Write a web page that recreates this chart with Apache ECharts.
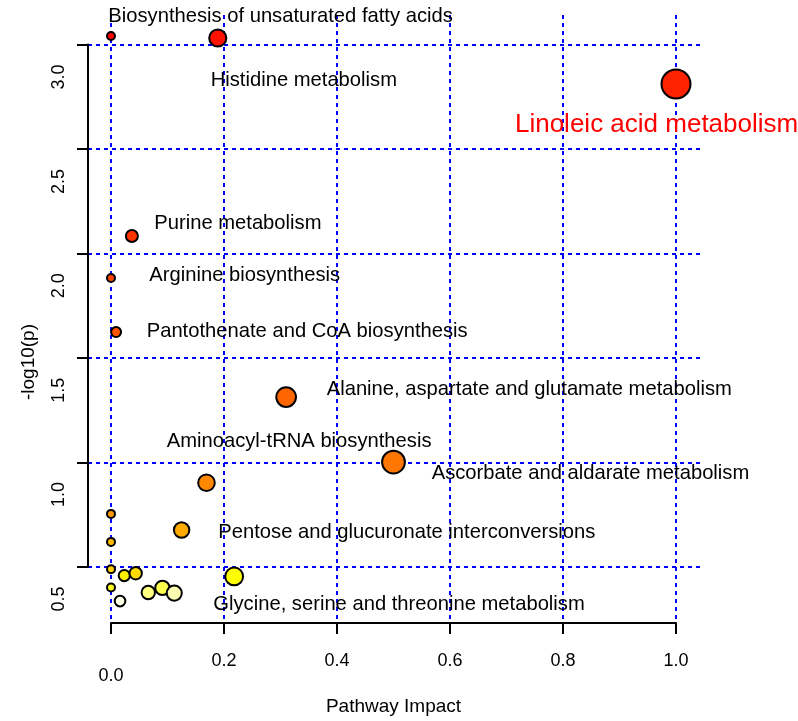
<!DOCTYPE html>
<html><head><meta charset="utf-8">
<script src="https://cdn.jsdelivr.net/npm/echarts@6/dist/echarts.min.js"></script>
<style>html,body{margin:0;padding:0;background:#fff}#c{width:798px;height:721px}</style>
</head><body><div id="c"></div>
<script>
// Pathway impact (x) and -log10(p) (y) for each pathway bubble
const pathwayImpact = [0, 0.189, 1.0, 0.037, 0, 0.009, 0.310, 0.5, 0.169, 0.125, 0, 0, 0, 0.0235, 0.0437, 0, 0.016, 0.066, 0.091, 0.112, 0.218];
const negLog10P     = [3.041, 3.031, 2.811, 2.084, 1.883, 1.624, 1.313, 1.002, 0.903, 0.677, 0.754, 0.620, 0.489, 0.459, 0.470, 0.402, 0.337, 0.378, 0.400, 0.375, 0.455];

// Annotation texts and their anchor (left edge, middle) in data units
const labelNames = ['Biosynthesis of unsaturated fatty acids', 'Histidine metabolism', 'Linoleic acid metabolism',
  'Purine metabolism', 'Arginine biosynthesis', 'Pantothenate and CoA biosynthesis',
  'Alanine, aspartate and glutamate metabolism', 'Aminoacyl-tRNA biosynthesis',
  'Ascorbate and aldarate metabolism', 'Pentose and glucuronate interconversions',
  'Glycine, serine and threonine metabolism'];
const labelX = [-0.0048, 0.1765, 0.715, 0.0766, 0.0678, 0.0632, 0.3818, 0.0986, 0.5676, 0.1899, 0.1811];
const labelY = [3.136, 2.830, 2.615, 2.145, 1.896, 1.628, 1.349, 1.102, 0.950, 0.663, 0.322];

const xTicks = [0, 0.2, 0.4, 0.6, 0.8, 1.0];
const yTicks = [0.5, 1.0, 1.5, 2.0, 2.5, 3.0];

// R heat.colors(n)
function heatColors(n) {
  const j = Math.floor(n / 4), i = n - j, out = [];
  function hsv(h, s, v) {
    const f = (k) => { const kk = (k + h * 6) % 6; return v - v * s * Math.max(0, Math.min(kk, 4 - kk, 1)); };
    const c = (x) => Math.round(x * 255).toString(16).padStart(2, '0');
    return '#' + c(f(5)) + c(f(3)) + c(f(1));
  }
  for (let k = 0; k < i; k++) out.push(hsv((i > 1 ? k / (i - 1) : 0) / 6, 1, 1));
  for (let k = 0; k < j; k++) {
    const s = j > 1 ? (1 - 1 / (2 * j)) + k * ((1 / (2 * j)) - (1 - 1 / (2 * j))) / (j - 1) : 0.5;
    out.push(hsv(1 / 6, s, 1));
  }
  return out;
}
const order = negLog10P.map((v, k) => k).sort((a, b) => negLog10P[b] - negLog10P[a]);
const pal = heatColors(negLog10P.length);
const colorOf = [];
order.forEach((idx, r) => { colorOf[idx] = pal[r]; });

const bubbleData = pathwayImpact.map((x, k) => ({ value: [x, negLog10P[k]], itemStyle: { color: colorOf[k] } }));
const labelData = labelNames.map((n, k) => {
  const item = { name: n, value: [labelX[k], labelY[k]] };
  if (n === 'Linoleic acid metabolism') item.label = { color: '#FF0000', fontSize: 26 };
  return item;
});

const FONT = '"Liberation Sans", Arial, Helvetica, sans-serif';
const blueDash = { show: true, lineStyle: { color: '#0000FF', type: [4, 4], width: 2 } };
const blackLine = { show: true, onZero: false, lineStyle: { color: '#000', width: 2 } };
const blackTick = { show: true, length: 11, lineStyle: { color: '#000', width: 2 } };

const chart = echarts.init(document.getElementById('c'), null, { renderer: 'canvas' });
chart.setOption({
  animation: false,
  backgroundColor: '#fff',
  textStyle: { fontFamily: FONT },
  grid: [
    { left: 88, right: 98, top: 15, bottom: 98 },
    { left: 111, right: 122, top: 15, bottom: 98 },
    { left: 88, right: 98, top: 44.5, bottom: 154 },
    { left: 88, right: 98, top: 77, bottom: 122 }
  ],
  xAxis: [
    { gridIndex: 0, type: 'value', min: -0.0407, max: 1.0425, show: false },
    { gridIndex: 1, type: 'value', min: xTicks[0], max: xTicks[xTicks.length - 1], interval: 0.2,
      axisLine: blackLine, axisTick: blackTick, splitLine: blueDash,
      axisLabel: { fontSize: 18, color: '#000', fontFamily: FONT, margin: 29,
        formatter: (v) => v === 0 ? '{lo|0.0}' : v.toFixed(1),
        rich: { lo: { fontSize: 18, color: '#000', fontFamily: FONT, padding: [15, 0, 0, 0] } } },
      name: 'Pathway Impact', nameLocation: 'middle', nameGap: 74,
      nameTextStyle: { fontSize: 19, color: '#000', fontFamily: FONT } },
    { gridIndex: 2, type: 'value', min: 0, max: 1, show: false },
    { gridIndex: 3, type: 'value', min: 0, max: 1, show: false }
  ],
  yAxis: [
    { gridIndex: 0, type: 'value', min: 0.232, max: 3.1411, show: false },
    { gridIndex: 1, type: 'value', min: 0, max: 1, show: false },
    { gridIndex: 2, type: 'value', min: yTicks[0], max: yTicks[yTicks.length - 1], interval: 0.5,
      axisLine: blackLine, axisTick: blackTick, splitLine: blueDash, axisLabel: { show: false } },
    { gridIndex: 3, type: 'value', min: yTicks[0], max: yTicks[yTicks.length - 1], interval: 0.5,
      axisLine: { show: false }, axisTick: { show: false }, splitLine: { show: false },
      axisLabel: { rotate: 90, fontSize: 18, color: '#000', fontFamily: FONT, margin: 20,
        formatter: (v) => v.toFixed(1) },
      name: '-log10(p)', nameLocation: 'middle', nameGap: 50,
      nameTextStyle: { fontSize: 19, color: '#000', fontFamily: FONT, padding: [0, 48, 0, 0] } }
  ],
  series: [
    { type: 'scatter', xAxisIndex: 0, yAxisIndex: 0, z: 5, silent: true,
      data: bubbleData,
      symbolSize: (val) => 2 * (5 + 10.5 * Math.sqrt(val[0])) - 2,
      itemStyle: { borderColor: '#000', borderWidth: 2, opacity: 1 } },
    { type: 'scatter', xAxisIndex: 0, yAxisIndex: 0, z: 6, silent: true, clip: false,
      data: labelData, symbolSize: 0, itemStyle: { opacity: 1 },
      label: { show: true, position: 'right', distance: 0, formatter: '{b}', opacity: 1,
        color: '#000', fontSize: 20.2, fontFamily: FONT } }
  ]
});
</script></body></html>
